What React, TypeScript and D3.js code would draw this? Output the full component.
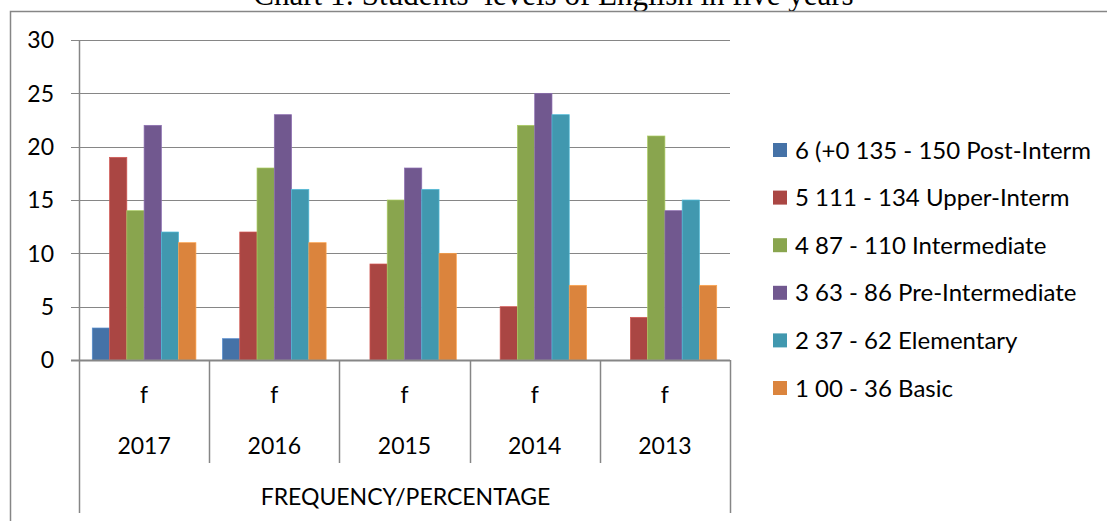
import React, {useEffect, useRef} from 'react';
import * as d3 from 'd3';

const years = ['2017', '2016', '2015', '2014', '2013'];
const seriesNames = [
  '6 (+0 135 - 150 Post-Interm',
  '5 111 - 134 Upper-Interm',
  '4 87 - 110 Intermediate',
  '3 63 - 86 Pre-Intermediate',
  '2 37 - 62 Elementary',
  '1 00 - 36 Basic',
];
const postInterm = [3, 2, 0, 0, 0];
const upperInterm = [19, 12, 9, 5, 4];
const intermediate = [14, 18, 15, 22, 21];
const preInterm = [22, 23, 18, 25, 14];
const elementary = [12, 16, 16, 23, 15];
const basic = [11, 11, 10, 7, 7];
const yTicks = [0, 5, 10, 15, 20, 25, 30];
const colors = ['#4572A7', '#AA4643', '#89A54E', '#71588F', '#4198AF', '#DB843D'];

const FONT = 'Lato, "Open Sans", sans-serif';
const FS = 23;

const App = () => {
  const svgRef = useRef<SVGSVGElement>(null);

  useEffect(() => {
    const width = 1107;
    const height = 521;
    const svg = d3.select(svgRef.current);
    svg.selectAll('*').remove();
    svg.attr('width', width).attr('height', height);

    const allSeries = [postInterm, upperInterm, intermediate, preInterm, elementary, basic];
    const left = 79;
    const right = 730;
    const top = 40;
    const bottom = 360;
    const grey = '#868686';

    // title (cut off at the top edge, like the source)
    svg
      .append('text')
      .attr('x', width / 2)
      .attr('y', 5)
      .attr('text-anchor', 'middle')
      .attr('font-family', '"Liberation Serif", "Times New Roman", serif')
      .attr('font-size', 31)
      .text('Chart 1: Students\u2019 levels of English in five years');

    // outer chart frame
    svg
      .append('path')
      .attr('d', `M10.5,${height + 2}V11.5H${width + 2}`)
      .attr('fill', 'none')
      .attr('stroke', grey)
      .attr('stroke-width', 1.5);

    const y = d3.scaleLinear().domain([0, 30]).range([bottom, top]);
    const x0 = d3.scaleBand<string>().domain(years).range([left, right]).padding(0);
    const gap = x0.bandwidth() * 0.102;
    const x1 = d3
      .scaleBand<number>()
      .domain(d3.range(allSeries.length))
      .range([gap, x0.bandwidth() - gap])
      .padding(0);

    // gridlines + tick labels
    const g = svg.append('g');
    yTicks.forEach(t => {
      g.append('line')
        .attr('x1', left - 8)
        .attr('x2', right)
        .attr('y1', Math.round(y(t)) + 0.5)
        .attr('y2', Math.round(y(t)) + 0.5)
        .attr('stroke', grey)
        .attr('stroke-width', 1);
      g.append('text')
        .attr('x', 54)
        .attr('y', y(t))
        .attr('dy', '0.36em')
        .attr('text-anchor', 'end')
        .attr('font-family', FONT)
        .attr('font-size', FS)
        .attr('fill', '#000')
        .text(t);
    });

    // bars
    years.forEach((yr, i) => {
      const grp = svg.append('g').attr('transform', `translate(${x0(yr)},0)`);
      allSeries.forEach((vals, s) => {
        if (!vals[i]) return;
        grp
          .append('rect')
          .attr('x', x1(s)!)
          .attr('y', y(vals[i]))
          .attr('width', x1.bandwidth())
          .attr('height', y(0) - y(vals[i]))
          .attr('fill', colors[s])
          .attr('stroke', d3.color(colors[s])!.brighter(0.6).toString())
          .attr('stroke-width', 0.7);
      });
    });

    // axis lines
    svg
      .append('line')
      .attr('x1', left - 8)
      .attr('x2', right)
      .attr('y1', bottom + 0.5)
      .attr('y2', bottom + 0.5)
      .attr('stroke', grey)
      .attr('stroke-width', 2);
    svg
      .append('line')
      .attr('x1', left + 0.5)
      .attr('x2', left + 0.5)
      .attr('y1', top)
      .attr('y2', 513)
      .attr('stroke', grey)
      .attr('stroke-width', 1.5);
    svg
      .append('line')
      .attr('x1', right + 0.5)
      .attr('x2', right + 0.5)
      .attr('y1', bottom)
      .attr('y2', 513)
      .attr('stroke', grey)
      .attr('stroke-width', 1.5);
    years.slice(1).forEach(yr => {
      const xx = Math.round(x0(yr)!) + 0.5;
      svg
        .append('line')
        .attr('x1', xx)
        .attr('x2', xx)
        .attr('y1', bottom)
        .attr('y2', 463)
        .attr('stroke', grey)
        .attr('stroke-width', 1.5);
    });

    // multi-level category labels
    years.forEach(yr => {
      const cx = x0(yr)! + x0.bandwidth() / 2;
      svg
        .append('text')
        .attr('x', cx)
        .attr('y', 403)
        .attr('text-anchor', 'middle')
        .attr('font-family', FONT)
        .attr('font-size', FS)
        .text('f');
      svg
        .append('text')
        .attr('x', cx)
        .attr('y', 454)
        .attr('text-anchor', 'middle')
        .attr('font-family', FONT)
        .attr('font-size', FS)
        .text(yr);
    });
    svg
      .append('text')
      .attr('x', (left + right) / 2 + 1)
      .attr('y', 505)
      .attr('text-anchor', 'middle')
      .attr('font-family', FONT)
      .attr('font-size', FS)
      .text('FREQUENCY/PERCENTAGE');

    // legend
    const legend = svg.append('g');
    seriesNames.forEach((name, s) => {
      const cy = 150 + s * 47.6;
      legend
        .append('rect')
        .attr('x', 773)
        .attr('y', cy - 7)
        .attr('width', 14)
        .attr('height', 14)
        .attr('fill', colors[s]);
      legend
        .append('text')
        .attr('x', 795)
        .attr('y', cy)
        .attr('dy', '0.36em')
        .attr('font-family', FONT)
        .attr('font-size', 24)
        .text(name);
    });
  }, []);

  return (
    <div style={{position: 'absolute', left: 0, top: 0, width: 1107, height: 521, background: '#fff'}}>
      <svg ref={svgRef} style={{display: 'block'}}></svg>
    </div>
  );
};

export default App;
